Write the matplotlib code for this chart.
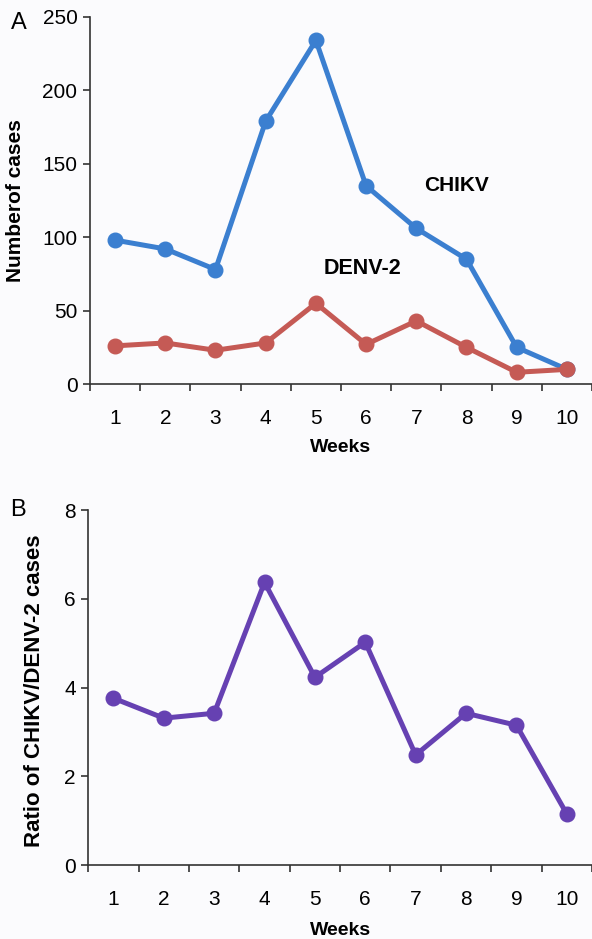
import matplotlib.pyplot as plt

# weekly case counts
weeks = [1, 2, 3, 4, 5, 6, 7, 8, 9, 10]
chikv = [98, 92, 78, 179, 234, 135, 106, 85, 25, 10]
denv2 = [26, 28, 23, 28, 55, 27, 43, 25, 8, 10]
ratio = [3.76, 3.31, 3.42, 6.37, 4.23, 5.02, 2.48, 3.42, 3.15, 1.15]

plt.rcParams['font.family'] = ['Liberation Sans', 'DejaVu Sans']

bg = "#fbfbfd"
fig = plt.figure(figsize=(5.92, 9.39), dpi=100, facecolor=bg)
ax1 = fig.add_axes([0.152, 0.591, 0.848, 0.391])
ax2 = fig.add_axes([0.149, 0.0788, 0.851, 0.378])


def style(ax, ymax, ystep, lpad):
    ax.set_facecolor(bg)
    ax.set_xlim(0.5, 10.5)
    ax.set_ylim(0, ymax)
    ax.set_yticks(range(0, ymax + 1, ystep))
    # category axis: labels at the centre, ticks between categories
    ax.set_xticks(weeks)
    ax.set_xticks([w - 0.5 for w in weeks] + [10.5], minor=True)
    ax.tick_params(axis='x', which='major', length=0, pad=18, labelsize=15)
    ax.tick_params(axis='x', which='minor', length=5, width=1.2, color='#333333')
    ax.tick_params(axis='y', length=5, width=1.2, color='#333333', labelsize=15, pad=4)
    for s in ['top', 'right']:
        ax.spines[s].set_visible(False)
    for s in ['left', 'bottom']:
        ax.spines[s].set_linewidth(1.2)
        ax.spines[s].set_color('#333333')
    ax.set_xlabel("Weeks", fontsize=14, fontweight='bold', labelpad=lpad)


# A: number of cases
style(ax1, 250, 50, 8)
ax1.plot(weeks, chikv, color="#3b7fd0", lw=3.6, marker='o', ms=10.5, clip_on=False)
ax1.plot(weeks, denv2, color="#c55a55", lw=3.6, marker='o', ms=10.5, clip_on=False)
ax1.text(7.8, 135, "CHIKV", fontsize=15, fontweight='bold', ha='center', va='center')
ax1.text(5.92, 79, "DENV-2", fontsize=15.5, fontweight='bold', ha='center', va='center')
ax1.set_ylabel("Numberof cases", fontsize=15, fontweight='bold')
ax1.yaxis.set_label_coords(-0.13, 0.5)
fig.text(0.031, 0.976, "A", fontsize=17, ha='center', va='center')

# B: ratio
style(ax2, 8, 2, 9)
ax2.plot(weeks, ratio, color="#6641b2", lw=3.6, marker='o', ms=10.5, clip_on=False)
ax2.set_ylabel("Ratio of CHIKV/DENV-2 cases", fontsize=16, fontweight='bold')
ax2.yaxis.set_label_coords(-0.085, 0.49)
fig.text(0.031, 0.457, "B", fontsize=17, ha='center', va='center')

fig.savefig("out.png", dpi=100, facecolor=bg)
